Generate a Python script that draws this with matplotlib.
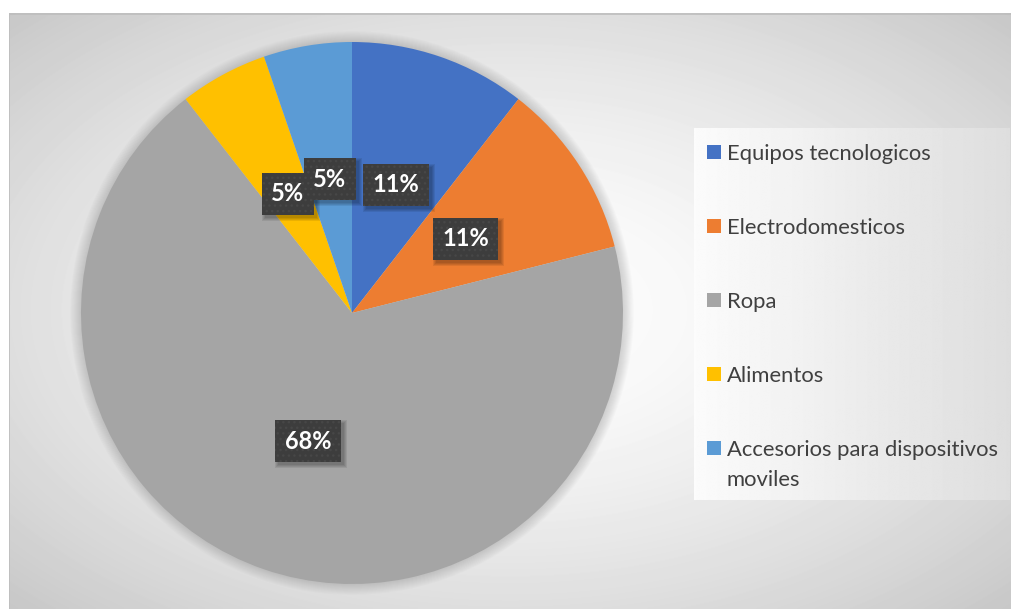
import matplotlib.pyplot as plt
import matplotlib.transforms as mtransforms
from matplotlib.patches import Circle, Rectangle
import numpy as np

# sales share by product category
categories = ["Equipos tecnologicos", "Electrodomesticos", "Ropa", "Alimentos",
              "Accesorios para dispositivos\nmoviles"]
counts = [2, 2, 13, 1, 1]
colors = ["#4472C4", "#ED7D31", "#A5A5A5", "#FFC000", "#5B9BD5"]

W, H = 1011, 609
fig = plt.figure(figsize=(W / 100, H / 100), dpi=100, facecolor="white")


def px_axes(x0, y0, x1, y1, **kw):
    """Axes from pixel box (top-left origin)."""
    return fig.add_axes([x0 / W, 1 - y1 / H, (x1 - x0) / W, (y1 - y0) / H], **kw)


# chart area with soft radial gradient
bg = px_axes(9, 13, W, H)
yy, xx = np.mgrid[13:H, 9:W]
t = np.hypot((xx - 510) / 505, (yy - 310) / 300) / np.sqrt(2)
shade = 1 - 0.22 * np.clip(t, 0, 1.1) ** 1.5
bg.imshow(shade, cmap="gray", vmin=0, vmax=1, aspect="auto",
          extent=[9, W, H, 13], interpolation="bilinear")
bg.plot([9, 9, W], [H, 13.5, 13.5], color="#bdbdbd", lw=1.2)
bg.set_xlim(9, W)
bg.set_ylim(H, 13)
bg.axis("off")

# pie
cx, cy, R = 352, 313, 271
ax = px_axes(cx - R, cy - R, cx + R, cy + R)
ax.set_facecolor("none")

# soft halo behind the pie
for k in range(1, 12):
    ax.add_patch(Circle((0, 0), 1 + 0.0036 * k, facecolor="#808080",
                        alpha=0.03, lw=0, zorder=0, clip_on=False))

wedges, _, autotexts = ax.pie(counts, colors=colors, startangle=90, counterclock=False,
                              autopct="%1.0f%%", pctdistance=0.5,
                              wedgeprops=dict(linewidth=0, zorder=1))
ax.set_xlim(-1, 1)
ax.set_ylim(-1, 1)
ax.set_aspect("equal")
ax.axis("off")

for at in autotexts:
    at.set(color="white", fontsize=17, fontweight="bold", family="Lato", zorder=4)
    at.set_bbox(dict(boxstyle="square,pad=0.4", facecolor="#3d3d3d",
                     edgecolor="#474747", lw=0, hatch="..."))

# soft drop shadows under the label boxes (display coords)
fig.canvas.draw()
for at in autotexts:
    bb = at.get_bbox_patch().get_window_extent()
    for g in range(4):
        ax.add_patch(Rectangle((bb.x0 + 3 - g, bb.y0 - 3 - g),
                               bb.width + 2 * g, bb.height + 2 * g,
                               transform=mtransforms.IdentityTransform(),
                               facecolor="black", alpha=0.08, lw=0, zorder=3,
                               clip_on=False))

# legend panel
lx0, ly0, lx1, ly1 = 694, 128, 1010, 500
lg = px_axes(lx0, ly0, lx1, ly1)
grad = np.linspace(0.985, 0.87, 300)[None, :].repeat(2, axis=0)
lg.imshow(grad, cmap="gray", vmin=0, vmax=1, aspect="auto",
          extent=[lx0, lx1, ly1, ly0], interpolation="bilinear")
lg.set_xlim(lx0, lx1)
lg.set_ylim(ly1, ly0)
lg.axis("off")

row0, step, line_gap = 152, 74, 30
for i, (name, col) in enumerate(zip(categories, colors)):
    yc = row0 + i * step
    extra = name.count("\n") * line_gap
    lg.add_patch(Rectangle((707, yc - 7), 14, 14, facecolor=col, lw=0))
    lg.text(727, yc + 7.5 + extra, name, ha="left", va="baseline", fontsize=15.8,
            family="Lato", color="#404040", linespacing=1.6)

fig.savefig("out.png", dpi=100, facecolor="white")
